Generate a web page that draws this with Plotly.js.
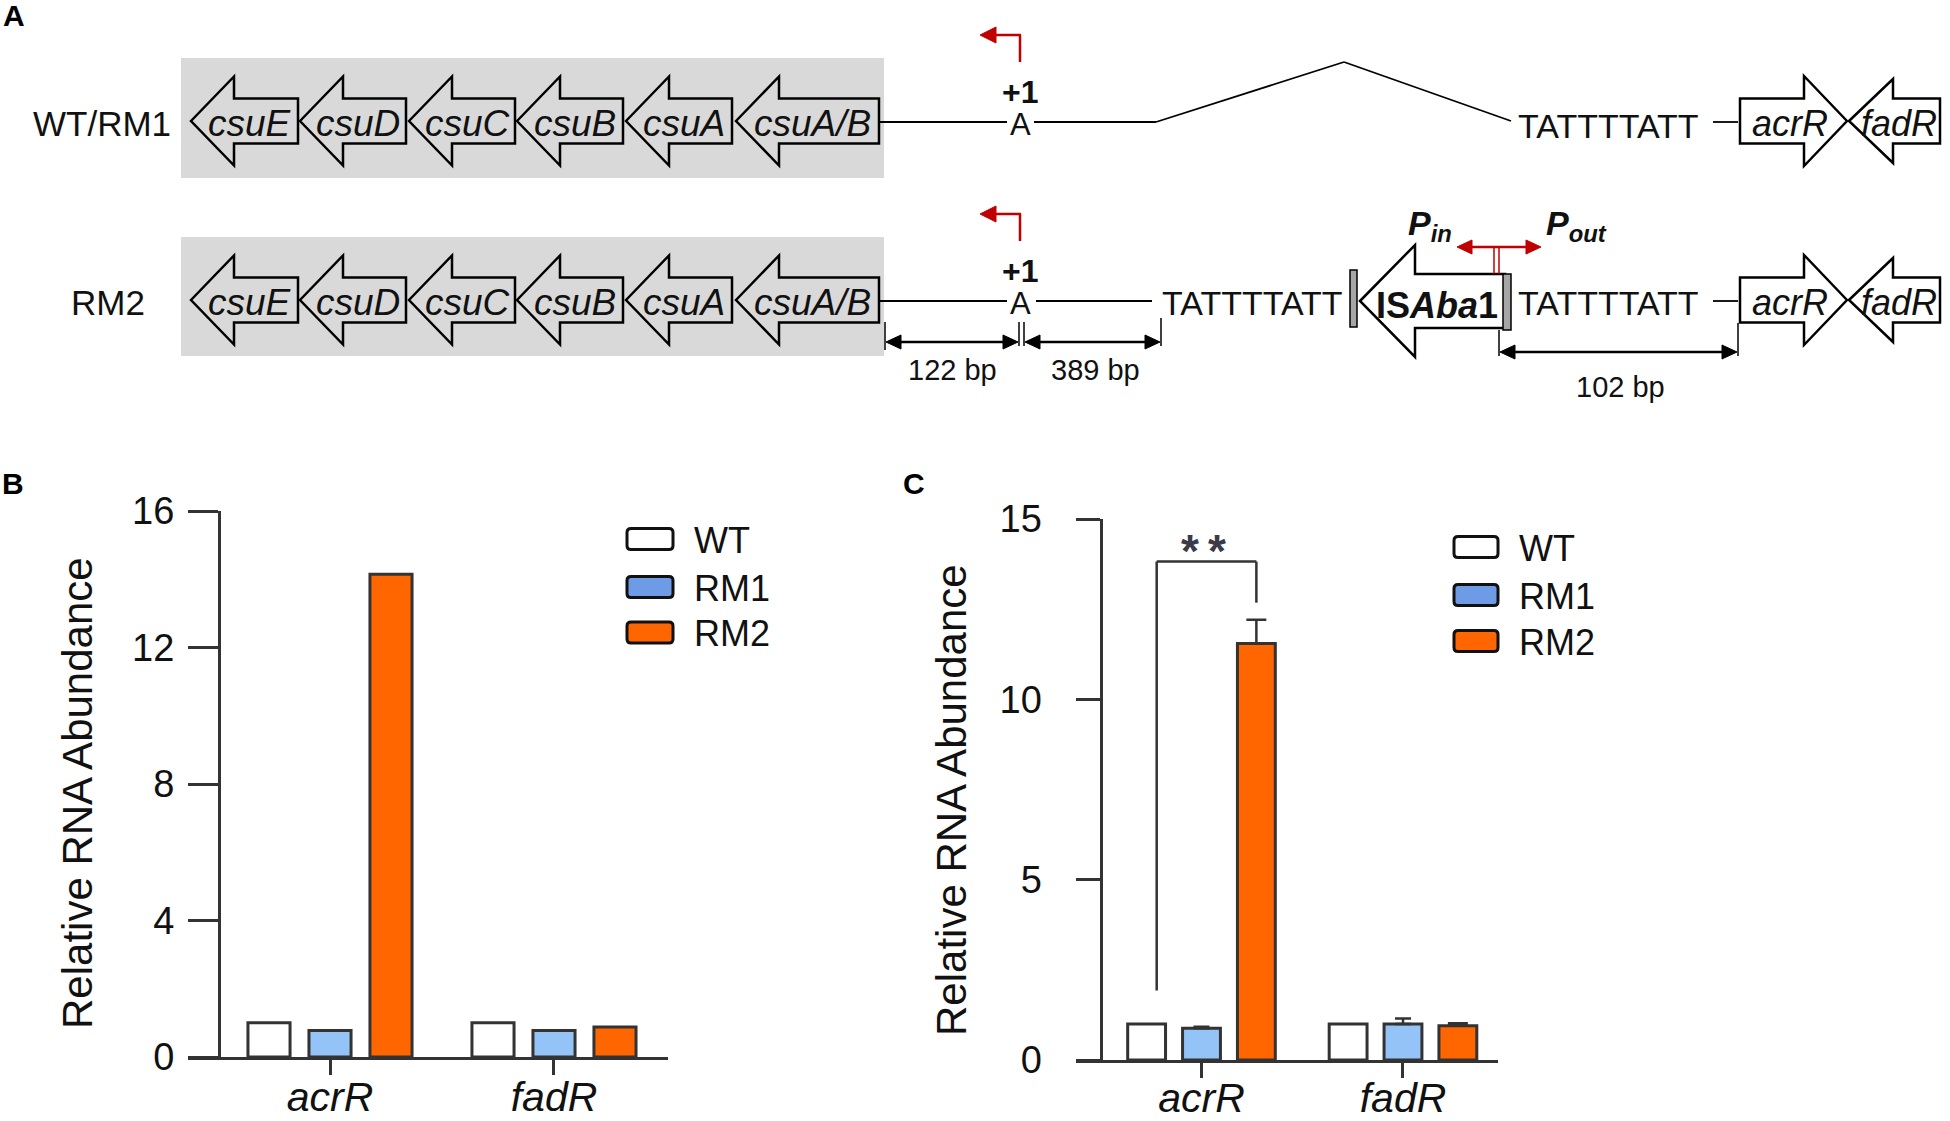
<!DOCTYPE html>
<html><head><meta charset="utf-8">
<script src="https://cdn.plot.ly/plotly-3.0.1.min.js"></script>
<style>html,body{margin:0;padding:0;background:#fff}#chart{width:1950px;height:1121px}</style>
</head><body><div id="chart"></div>
<script>
// ================= DATA =================
const categories = ['acrR', 'fadR'];
const strains = ['WT', 'RM1', 'RM2'];
// Panel B
const panelB_WT  = [1.0, 1.0];
const panelB_RM1 = [0.78, 0.78];
const panelB_RM2 = [14.15, 0.88];
const panelB_yticks = [0, 4, 8, 12, 16];
// Panel C
const panelC_WT  = [1.0, 1.0];
const panelC_RM1 = [0.88, 1.0];
const panelC_RM2 = [11.55, 0.95];
const panelC_RM1_err = [0.04, 0.15];
const panelC_RM2_err = [0.66, 0.07];
const panelC_yticks = [0, 5, 10, 15];
const sigLabel = '*\u2009*';
const sigBracketY = 13.82, sigLeftBottom = 1.93, sigRightBottom = 12.68;
// Panel A (diagram text)
const csuGenes = ['csuE', 'csuD', 'csuC', 'csuB', 'csuA', 'csuA/B'];
const rowLabels = ['WT/RM1', 'RM2'];
const spacerSeq = 'TATTTTATT';
const tssLabel = '+1', tssBase = 'A';
const distLabels = ['122 bp', '389 bp', '102 bp'];
const panelLetters = ['A', 'B', 'C'];

// ================= STYLE =================
const FONT = '"Liberation Sans", Arial, sans-serif';
const barFill = ['#ffffff', '#94c3f7', '#ff6600'];
const legendFill = ['#ffffff', '#6e9be6', '#ff6600'];
const OUT = '#333333';
const RED = '#c00000';
const W = 1950, H = 1121;

const shapes = [];
const annotations = [];
const P = {xref: 'x3', yref: 'y3'};
function ln(x0, y0, x1, y1, color, w) {
  shapes.push(Object.assign({type: 'line', x0, y0, x1, y1, line: {color: color || '#000', width: w || 1.8}}, P));
}
function pth(d, fill, color, w) {
  shapes.push(Object.assign({type: 'path', path: d, fillcolor: fill, line: {color: color || '#000', width: w === undefined ? 2.5 : w}}, P));
}
function txt(text, x, y, size, opts) {
  annotations.push(Object.assign({text, x, y, showarrow: false, xanchor: 'center', yanchor: 'middle',
    font: {family: FONT, size, color: '#111'}}, P, opts || {}));
}
function leftArrow(tip, base, tail, cy, sh, hh, fill) {
  pth(`M${tip},${cy} L${base},${cy - hh} L${base},${cy - sh} L${tail},${cy - sh} L${tail},${cy + sh} L${base},${cy + sh} L${base},${cy + hh} Z`, fill);
}
function rightArrow(tip, base, start, cy, sh, hh, fill) {
  pth(`M${tip},${cy} L${base},${cy - hh} L${base},${cy - sh} L${start},${cy - sh} L${start},${cy + sh} L${base},${cy + sh} L${base},${cy + hh} Z`, fill);
}
function headL(tip, y, len, half, color) { pth(`M${tip},${y} L${tip + len},${y - half} L${tip + len},${y + half} Z`, color, color, 1); }
function headR(tip, y, len, half, color) { pth(`M${tip},${y} L${tip - len},${y - half} L${tip - len},${y + half} Z`, color, color, 1); }
function rrect(x0, y0, x1, y1, r) {
  return `M${x0 + r},${y0} L${x1 - r},${y0} Q${x1},${y0} ${x1},${y0 + r} L${x1},${y1 - r} Q${x1},${y1} ${x1 - r},${y1} L${x0 + r},${y1} Q${x0},${y1} ${x0},${y1 - r} L${x0},${y0 + r} Q${x0},${y0} ${x0 + r},${y0} Z`;
}
const letterFont = {family: FONT, size: 30, color: '#000'};

// ================= PANEL A =================
txt('<b>' + panelLetters[0] + '</b>', 1, 15, 30, {xanchor: 'left', font: letterFont});
const csuTips = [191, 300, 409, 517, 626, 736];
const csuTails = [298, 406, 515, 623, 732, 879];
const rows = [{cy: 121, label: rowLabels[0], labelX: 31, boxY: [58, 178]}, {cy: 300, label: rowLabels[1], labelX: 69, boxY: [237, 356]}];
rows.forEach((r, ri) => {
  shapes.push(Object.assign({type: 'rect', x0: 181, x1: 884, y0: r.boxY[0], y1: r.boxY[1], fillcolor: '#d9d9d9', line: {width: 0}}, P));
  txt(r.label, r.labelX, r.cy + 2, 35, {xanchor: 'left'});
  csuGenes.forEach((g, i) => {
    leftArrow(csuTips[i], csuTips[i] + 43, csuTails[i], r.cy, 22.5, 44.5, 'rgba(0,0,0,0)');
    txt('<i>' + g + '</i>', (csuTips[i] + csuTails[i]) / 2 + 5, r.cy + 2, 37);
  });
  // line to TSS
  ln(879, r.cy + 1, 1007, r.cy + 1);
  txt(tssBase, 1020, r.cy + 3, 31);
  txt('<b>' + tssLabel + '</b>', 1020, r.cy - 29, 32);
  // red TSS arrow
  ln(1020, r.cy - 59, 1020, r.cy - 86, RED, 2.5);
  ln(1021, r.cy - 86, 994, r.cy - 86, RED, 2.5);
  headL(980, r.cy - 86, 16, 8, RED);
  // acrR / fadR
  rightArrow(1847, 1804, 1740, r.cy, 22.5, 45, '#ffffff');
  leftArrow(1849, 1893, 1940, r.cy, 22.5, 42, '#ffffff');
  txt('<i>' + categories[0] + '</i>', 1790, r.cy + 2, 36);
  txt('<i>' + categories[1] + '</i>', 1899, r.cy + 2, 36);
  ln(1713, r.cy + 1, 1738, r.cy + 1);
});
// row 1 specifics
ln(1034, 122, 1156, 122);
ln(1156, 122, 1344, 62);
ln(1344, 62, 1511, 121);
txt(spacerSeq, 1608, 126, 34);
// row 2 specifics
ln(1036, 301, 1152, 301);
txt(spacerSeq, 1252, 303, 34);
txt(spacerSeq, 1608, 303, 34);
leftArrow(1360, 1415, 1505, 301, 27, 56, '#ffffff');
shapes.push(Object.assign({type: 'rect', x0: 1350, x1: 1357, y0: 270, y1: 327, fillcolor: '#a6a6a6', line: {color: '#000', width: 1.5}}, P));
shapes.push(Object.assign({type: 'rect', x0: 1503, x1: 1511, y0: 274, y1: 330, fillcolor: '#a6a6a6', line: {color: '#000', width: 1.5}}, P));
txt('<b>IS<i>Aba</i>1</b>', 1437, 305, 36);
// P_in / P_out
ln(1494, 274, 1494, 248, RED, 1.5);
ln(1499, 274, 1499, 248, RED, 1.5);
ln(1470, 247, 1528, 247, RED, 2.5);
headL(1457, 247, 15, 7, RED);
headR(1541, 247, 15, 7, RED);
txt('<b><i>P<sub>in</sub></i></b>', 1406, 225, 34, {xanchor: 'left'});
txt('<b><i>P<sub>out</sub></i></b>', 1544, 225, 34, {xanchor: 'left'});
// dimension arrows
ln(885, 322, 885, 350, '#000', 1.5);
ln(1019, 322, 1019, 346, '#000', 1.5);
ln(1024, 322, 1024, 346, '#000', 1.5);
ln(1161, 318, 1161, 346, '#000', 1.5);
ln(1499, 330, 1499, 356, '#000', 1.5);
ln(1738, 323, 1738, 356, '#000', 1.5);
ln(895, 342, 1008, 342, '#000', 2.5); headL(886, 342, 15, 7, '#000'); headR(1018, 342, 15, 7, '#000');
ln(1034, 342, 1150, 342, '#000', 2.5); headL(1025, 342, 15, 7, '#000'); headR(1160, 342, 15, 7, '#000');
ln(1510, 352, 1728, 352, '#000', 2.5); headL(1500, 352, 15, 7, '#000'); headR(1737, 352, 15, 7, '#000');
txt(distLabels[0], 952, 370, 29);
txt(distLabels[1], 1095, 370, 29);
txt(distLabels[2], 1620, 387, 29);

// ================= PANELS B & C =================
txt('<b>' + panelLetters[1] + '</b>', 0, 483, 30, {xanchor: 'left', font: letterFont});
txt('<b>' + panelLetters[2] + '</b>', 901, 483, 30, {xanchor: 'left', font: letterFont});
txt('Relative RNA Abundance', 77, 793, 42, {textangle: -90});
txt('Relative RNA Abundance', 951, 800, 42, {textangle: -90});

// custom legends
function legend(x0, x1, centers, textX) {
  strains.forEach((s, i) => {
    pth(rrect(x0, centers[i] - 10.5, x1, centers[i] + 10.5, 4), legendFill[i], '#111', 3);
    txt(s, textX, centers[i] + 1, 36, {xanchor: 'left'});
  });
}
legend(627, 673, [539, 587, 632.5], 692);
legend(1454, 1498, [547, 595, 641], 1517);

const traces = [];
const bVals = [panelB_WT, panelB_RM1, panelB_RM2];
bVals.forEach((v, i) => traces.push({type: 'bar', x: categories, y: v, name: strains[i], xaxis: 'x', yaxis: 'y',
  marker: {color: barFill[i], line: {color: OUT, width: 3}}, showlegend: false, hoverinfo: 'skip'}));
const cVals = [panelC_WT, panelC_RM1, panelC_RM2];
const cErr = [null, panelC_RM1_err, panelC_RM2_err];
const cErrW = [0, 8, 10];
cVals.forEach((v, i) => {
  const t = {type: 'bar', x: categories, y: v, name: strains[i], xaxis: 'x2', yaxis: 'y2',
    marker: {color: barFill[i], line: {color: OUT, width: 3}}, showlegend: false, hoverinfo: 'skip'};
  if (cErr[i]) t.error_y = {type: 'data', array: cErr[i], arrayminus: cErr[i].map(() => 0), symmetric: false,
    color: OUT, thickness: 2.5, width: cErrW[i]};
  traces.push(t);
});
traces.push({type: 'scatter', x: [0], y: [0], xaxis: 'x3', yaxis: 'y3', mode: 'markers', marker: {opacity: 0, size: 1}, showlegend: false, hoverinfo: 'skip'});

// significance bracket (panel C)
const slot = (1 - 0.183) / 3;
const bxL = -slot + 0.05, bxR = slot;
[[bxL, sigLeftBottom, bxL, sigBracketY], [bxL, sigBracketY, bxR, sigBracketY], [bxR, sigBracketY, bxR, sigRightBottom]].forEach(s =>
  shapes.push({type: 'line', xref: 'x2', yref: 'y2', x0: s[0], y0: s[1], x1: s[2], y1: s[3], line: {color: OUT, width: 2.5}}));
annotations.push({xref: 'x2', yref: 'y2', x: 0.01, y: 14.1, text: '<b>' + sigLabel + '</b>', showarrow: false,
  font: {family: FONT, size: 46, color: '#3a3a48'}});

const axisCommon = {showline: true, linecolor: OUT, linewidth: 3, ticks: 'outside', tickwidth: 3, tickcolor: OUT,
  showgrid: false, zeroline: false, fixedrange: true};
const italicTicks = categories.map(c => '<i>' + c + '</i>');

const layout = {
  width: W, height: H, margin: {l: 0, r: 0, t: 0, b: 0}, paper_bgcolor: '#fff', plot_bgcolor: 'rgba(0,0,0,0)',
  showlegend: false, barmode: 'group', bargap: 0.183, bargroupgap: 0.31,
  font: {family: FONT, color: '#111'},
  xaxis: Object.assign({}, axisCommon, {domain: [188 / W, 668 / W], range: [-0.634, 1.509], anchor: 'y',
    tickmode: 'array', tickvals: categories, ticktext: italicTicks, ticklen: 15, ticklabelstandoff: -13, tickfont: {family: FONT, size: 41, color: '#111'}}),
  yaxis: Object.assign({}, axisCommon, {domain: [1 - 1057 / H, 1 - 511 / H], range: [0, 16], anchor: 'free', position: 219 / W,
    tickmode: 'array', tickvals: panelB_yticks, ticklen: 30, ticklabelstandoff: 6, tickfont: {family: FONT, size: 38, color: '#111'}}),
  xaxis2: Object.assign({}, axisCommon, {domain: [1076 / W, 1498 / W], range: [-0.6228, 1.4715], anchor: 'y2',
    tickmode: 'array', tickvals: categories, ticktext: italicTicks, ticklen: 15, ticklabelstandoff: -15, tickfont: {family: FONT, size: 41, color: '#111'}}),
  yaxis2: Object.assign({}, axisCommon, {domain: [1 - 1060 / H, 1 - 519 / H], range: [0, 15], anchor: 'free', position: 1100.5 / W,
    tickmode: 'array', tickvals: panelC_yticks, ticklen: 24, ticklabelstandoff: 26, tickfont: {family: FONT, size: 38, color: '#111'}}),
  xaxis3: {domain: [0, 1], range: [0, W], visible: false, anchor: 'y3', fixedrange: true},
  yaxis3: {domain: [0, 1], range: [H, 0], visible: false, anchor: 'x3', fixedrange: true},
  shapes, annotations
};
Plotly.newPlot('chart', traces, layout, {staticPlot: true, displayModeBar: false});
</script></body></html>
